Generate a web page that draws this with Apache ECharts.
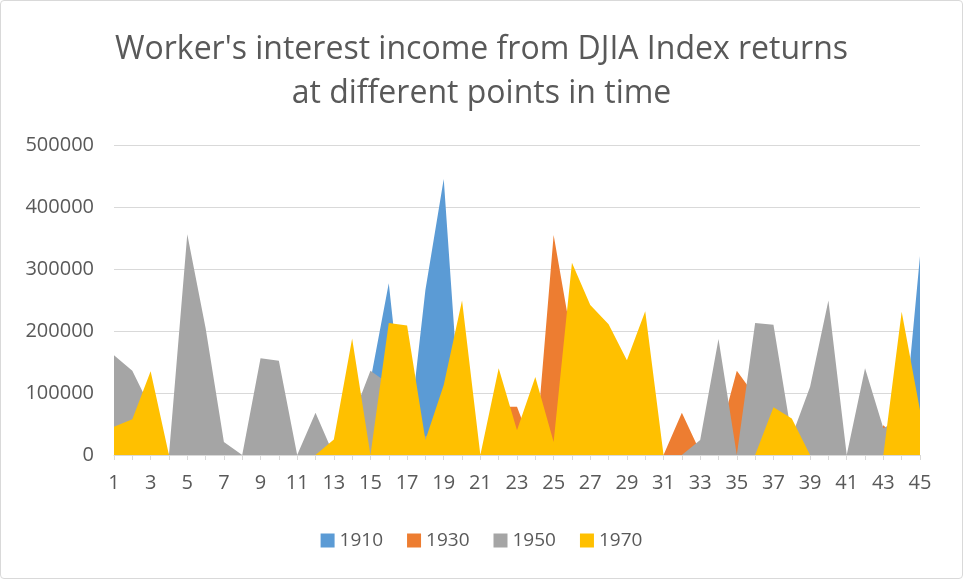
<!DOCTYPE html>
<html>
<head>
<meta charset="utf-8">
<script src="https://cdn.jsdelivr.net/npm/echarts@6/dist/echarts.min.js"></script>
<style>
  html, body { margin: 0; padding: 0; background: #fff; }
  #main {
    width: 961px;
    height: 577px;
    border: 1px solid #d9d9d9;
    border-radius: 4px;
  }
</style>
</head>
<body>
<div id="main"></div>
<script>
const periods = ['1','2','3','4','5','6','7','8','9','10','11','12','13','14','15','16','17','18','19','20','21','22','23','24','25','26','27','28','29','30','31','32','33','34','35','36','37','38','39','40','41','42','43','44','45'];

const y1910 = [0,0,0,0,0,0,0,0,0,0,0,0,0,0,120000,277000,5000,266000,445000,20000,0,0,0,0,0,0,0,0,0,0,0,0,0,0,0,0,0,0,0,0,0,0,0,5000,321000];
const y1930 = [0,0,0,0,0,0,0,0,0,0,0,0,0,0,0,0,0,0,0,0,0,78000,78000,0,355000,185000,120000,90000,60000,30000,0,68000,5000,25000,136000,95000,40000,20000,0,0,0,0,48000,20000,0];
const y1950 = [161000,136000,76000,0,356000,205000,21000,0,156000,152000,0,68000,0,59000,136000,115000,60000,30000,50000,40000,0,30000,20000,30000,10000,100000,120000,80000,60000,40000,0,0,24000,187000,0,213000,210000,30000,110000,249000,0,140000,43000,60000,30000];
const y1970 = [45600,57600,135000,0,0,0,0,0,0,0,0,0,25000,188000,0,213000,209000,24000,113000,249000,0,140000,40000,126000,21000,310000,242000,211000,153000,232000,0,0,0,0,0,0,77000,59000,0,0,0,0,0,231000,72000];

const yTicks = [0, 100000, 200000, 300000, 400000, 500000];

let myChart = echarts.init(document.getElementById('main'));

function area(name, data, color) {
  return {
    name: name,
    type: 'line',
    data: data,
    symbol: 'none',
    lineStyle: { width: 0 },
    areaStyle: { color: color, opacity: 1 },
    itemStyle: { color: color }
  };
}

myChart.setOption({
  animation: false,
  title: {
    text: "Worker's interest income from DJIA Index returns\nat different points in time",
    left: 'center',
    top: 22,
    textStyle: {
      fontFamily: 'Open Sans',
      fontSize: 32,
      fontWeight: 'normal',
      color: '#595959',
      lineHeight: 44
    }
  },
  legend: {
    bottom: 23,
    left: 'center',
    icon: 'rect',
    itemWidth: 14,
    itemHeight: 14,
    itemGap: 24,
    textStyle: { fontFamily: 'Open Sans', fontSize: 19, color: '#595959' },
    data: ['1910', '1930', '1950', '1970']
  },
  grid: {
    left: 113,
    right: 42,
    top: 144,
    bottom: 123
  },
  xAxis: {
    type: 'category',
    data: periods,
    boundaryGap: false,
    axisLine: { lineStyle: { color: '#d9d9d9', width: 1 } },
    axisTick: {
      show: true,
      interval: 0,
      length: 5,
      lineStyle: { color: '#d9d9d9' }
    },
    axisLabel: {
      interval: 1,
      fontFamily: 'Open Sans',
      fontSize: 20,
      color: '#595959',
      margin: 18
    }
  },
  yAxis: {
    type: 'value',
    min: yTicks[0],
    max: yTicks[yTicks.length - 1],
    interval: 100000,
    axisLine: { show: false },
    axisTick: { show: false },
    splitLine: { lineStyle: { color: '#d9d9d9', width: 1 } },
    axisLabel: {
      fontFamily: 'Open Sans',
      fontSize: 20,
      color: '#595959',
      margin: 20,
      formatter: function (v) { return String(v); }
    }
  },
  series: [
    area('1910', y1910, '#5b9bd5'),
    area('1930', y1930, '#ed7d31'),
    area('1950', y1950, '#a5a5a5'),
    area('1970', y1970, '#ffc000')
  ]
});
</script>
</body>
</html>
